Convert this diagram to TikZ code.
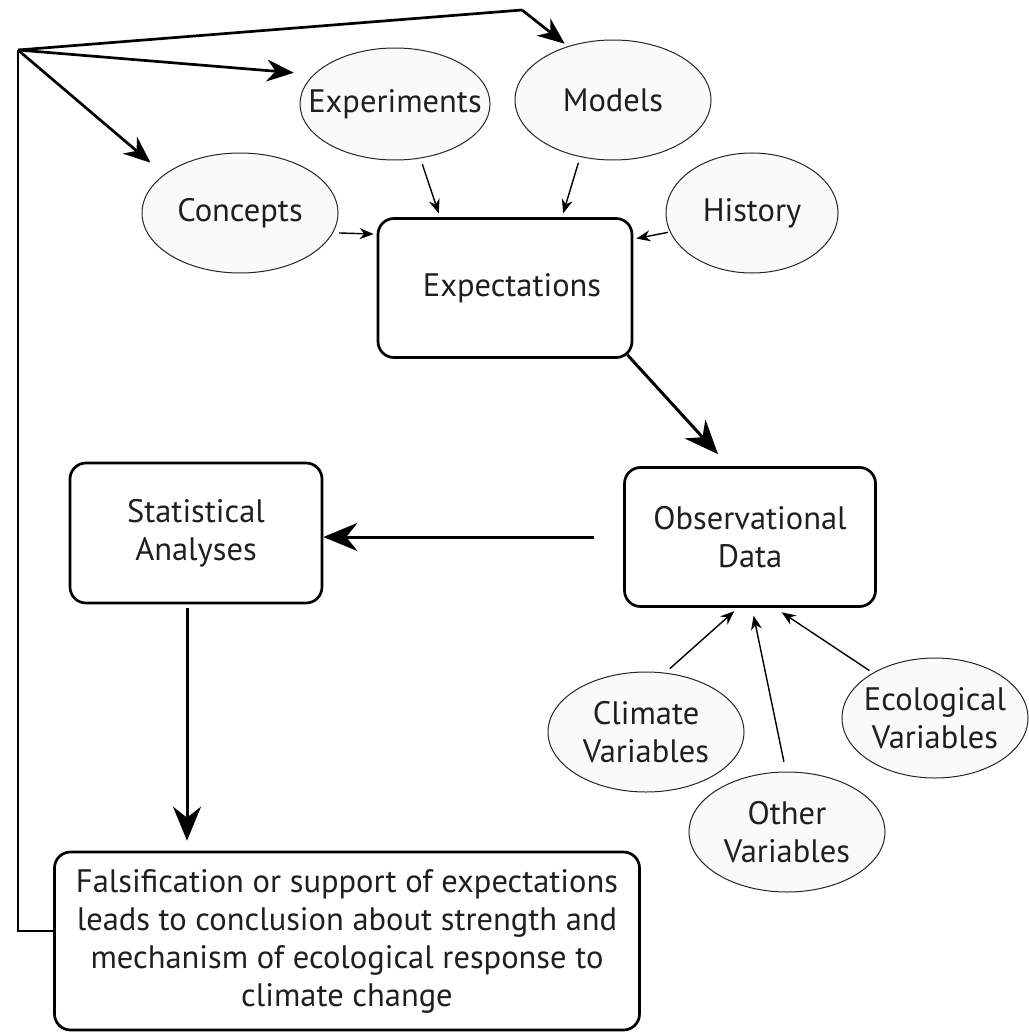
\documentclass[tikz,border=0pt]{standalone}
\usepackage{fontspec}
\setmainfont{PT Sans}
\usetikzlibrary{shapes.geometric,arrows.meta}
\begin{document}
\begin{tikzpicture}[x=1pt,y=-1pt,
  txt/.style={font=\fontsize{32.5}{38}\selectfont,text=black!88,align=center},
  oval/.style={txt,ellipse,draw=black!85,line width=1pt,inner xsep=-50pt,inner ysep=-30pt,fill=black!2,minimum width=196pt,minimum height=120pt},
  rbox/.style={txt,draw,rounded corners=16pt,line width=2.7pt,inner sep=0pt,fill=white},
  thinarr/.style={line width=1.4pt,-{Stealth[length=14pt,width=11pt]}},
  medarr/.style={line width=2.7pt,-{Stealth[length=27pt,width=22pt]}},
  bigarr/.style={line width=3pt,-{Stealth[length=34pt,width=28pt]}},
]
\useasboundingbox (0,0) rectangle (1028,1035);
% nodes
\node[oval,minimum width=190pt,minimum height=112pt] (exp) at (395,104) {Experiments};
\node[oval] (mod) at (613,100) {Models};
\node[oval] (con) at (240,213) {Concepts};
\node[oval,minimum width=172pt] (his) at (752,213) {History};
\node[rbox,minimum width=254pt,minimum height=139pt] (ex) at (505,288) {\hspace*{14pt}Expectations};
\node[rbox,minimum width=251pt,minimum height=139pt] (obs) at (750,537) {Observational\\Data};
\node[rbox,minimum width=252pt,minimum height=140pt] (sta) at (196,533) {Statistical\\Analyses};
\node[rbox,minimum width=585pt,minimum height=178pt] (fal) at (347,941)
  {Falsification or support of expectations\\leads to conclusion about strength and\\mechanism of ecological response to\\climate change};
\node[oval] (cli) at (646,732) {Climate\\Variables};
\node[oval] (oth) at (787,832) {Other\\Variables};
\node[oval,minimum width=186pt] (eco) at (935,718) {Ecological\\Variables};
% feedback loop
\coordinate (hub) at (18,50);
\coordinate (corner) at (522,10);
\draw[line width=2.7pt] ([yshift=10pt]fal.west) -| (hub);
\draw[line width=2.7pt] (hub) -- (corner);
\draw[medarr,shorten >=4pt] (corner) -- (mod.130);
\draw[medarr,shorten >=20pt] (hub) -- (exp.160);
\draw[medarr,shorten >=18pt] (hub) -- (con.153);
% into expectations
\draw[thinarr,shorten <=6pt,shorten >=4pt] (exp.-65) -- ([xshift=-65pt]ex.north);
\draw[thinarr,shorten <=6pt,shorten >=4pt] (mod.-120) -- ([xshift=57pt]ex.north);
\draw[thinarr,shorten <=6pt,shorten >=3pt] (con.-12) -- ([yshift=-17pt]ex.north west);
\draw[thinarr,shorten <=2pt,shorten >=3pt] (his.-167) -- ([yshift=-22pt]ex.north east);
% main flow
\draw[bigarr] ([xshift=-6pt,yshift=4pt]ex.south east) -- ([xshift=-32pt,yshift=12pt]obs.north);
\draw[bigarr] ([xshift=-29pt]obs.west) -- (sta.east |- obs.west);
\draw[bigarr,shorten <=4pt,shorten >=10pt] ([xshift=-9pt]sta.south) -- ([xshift=-9pt]sta.south |- fal.north);
% into observational data
\draw[thinarr,shorten <=6pt,shorten >=5pt] (cli.72) -- ([xshift=-12pt]obs.south);
\draw[thinarr,shorten <=10pt,shorten >=8pt] (oth.91) -- ([xshift=2pt]obs.south);
\draw[thinarr,shorten <=4pt,shorten >=8pt] (eco.144) -- ([xshift=25pt]obs.south);
\end{tikzpicture}
\end{document}
